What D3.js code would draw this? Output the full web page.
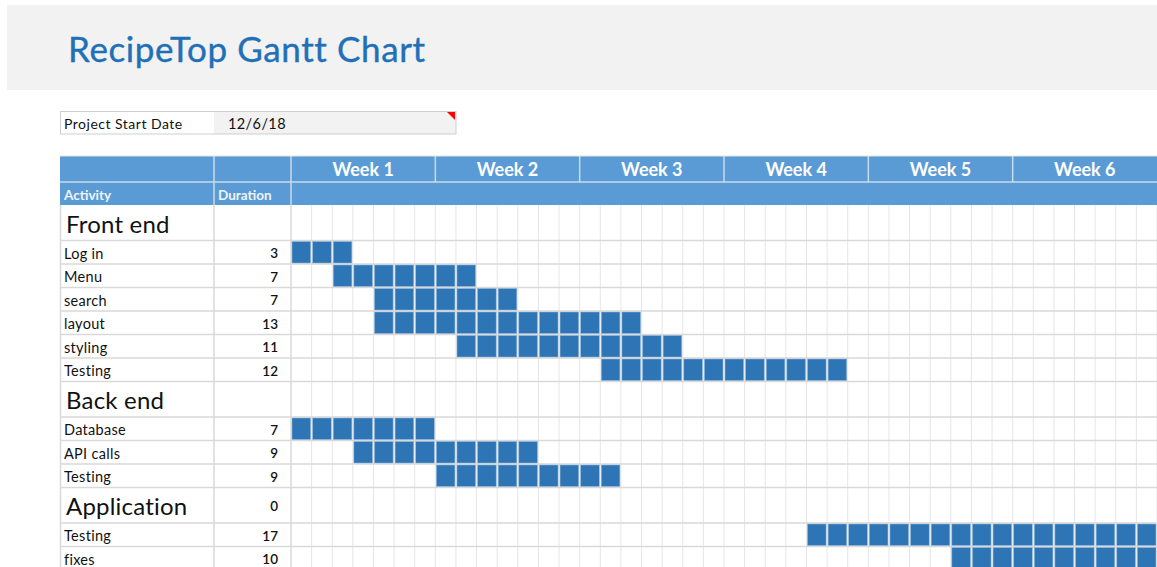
<!DOCTYPE html>
<html>
<head>
<meta charset="utf-8">
<script src="https://cdn.jsdelivr.net/npm/d3@7"></script>
<style>
  html, body { margin: 0; padding: 0; background: #fff; }
  svg { display: block; font-family: Lato, "Open Sans", sans-serif; }
</style>
</head>
<body>
<svg id="chart" width="1157" height="567"></svg>
<script>
// Project schedule
const projectStart = "12/6/18";
const weekLabels = ["Week 1", "Week 2", "Week 3", "Week 4", "Week 5", "Week 6"];
const activities = ["Front end", "Log in", "Menu", "search", "layout", "styling", "Testing",
                    "Back end", "Database", "API calls", "Testing",
                    "Application", "Testing", "fixes"];
const isSection  = [true, false, false, false, false, false, false,
                    true, false, false, false,
                    true, false, false];
const durations  = [null, 3, 7, 7, 13, 11, 12, null, 7, 9, 9, 0, 17, 10];
const startDays  = [null, 0, 2, 4, 4, 8, 15, null, 0, 3, 7, null, 25, 32];
const totalDays = 42;

const svg = d3.select("#chart");
const W = 1157;

const colActX = 60, colDurX = 214, colDaysX = 291;
const headTop = 156, head2Top = 182, bodyTop = 205;
const sectionH = 35.5, taskH = 23.5;

const blue = "#5b9bd5", barBlue = "#2e75b6", gridCol = "#e6e6e6", rowLine = "#d9d9d9";

// Title band
svg.append("rect").attr("x", 7).attr("y", 5).attr("width", W - 7).attr("height", 85).attr("fill", "#f2f2f2");
svg.append("text").attr("x", 68).attr("y", 62)
  .attr("font-size", 35).attr("letter-spacing", 0.6).attr("fill", "#1f70b8")
  .attr("stroke", "#1f70b8").attr("stroke-width", 0.4)
  .text("RecipeTop Gantt Chart");

// Project start date field
svg.append("rect").attr("x", 214).attr("y", 111).attr("width", 242).attr("height", 23).attr("fill", "#f2f2f2");
svg.append("rect").attr("x", 60.5).attr("y", 111.5).attr("width", 395.5).attr("height", 22.5)
  .attr("fill", "none").attr("stroke", "#cfcfcf");
svg.append("path").attr("d", "M447,112 L455,112 L455,120 Z").attr("fill", "#ff0000");
svg.append("text").attr("x", 64).attr("y", 128.5).attr("font-size", 14).attr("letter-spacing", 0.5).attr("fill", "#111").text("Project Start Date");
svg.append("text").attr("x", 228).attr("y", 129).attr("font-size", 14.5).attr("letter-spacing", 0.4).attr("fill", "#111").text(projectStart);

// Scales
const x = d3.scaleLinear().domain([0, totalDays]).range([colDaysX, colDaysX + totalDays * (866 / 42)]);
const weekX = d3.scaleBand().domain(weekLabels).range([x(0), x(totalDays)]).padding(0);

// Row positions
const rowTops = [];
let yy = bodyTop;
activities.forEach((a, i) => { rowTops.push(yy); yy += isSection[i] ? sectionH : taskH; });
const bodyBottom = yy;
const rowH = i => isSection[i] ? sectionH : taskH;

// Header
svg.append("rect").attr("x", colActX).attr("y", headTop).attr("width", W - colActX).attr("height", bodyTop - headTop).attr("fill", blue);
svg.append("line").attr("x1", colActX).attr("x2", W).attr("y1", head2Top).attr("y2", head2Top).attr("stroke", "#c9daea").attr("stroke-width", 1.5);
[colDurX, colDaysX].forEach(cx => {
  svg.append("line").attr("x1", cx).attr("x2", cx).attr("y1", headTop).attr("y2", bodyTop).attr("stroke", "#c9daea").attr("stroke-width", 1.5);
});
svg.selectAll(".wkdiv").data(weekLabels.slice(1)).join("line")
  .attr("x1", d => weekX(d)).attr("x2", d => weekX(d))
  .attr("y1", headTop).attr("y2", head2Top).attr("stroke", "#c9daea").attr("stroke-width", 1.5);
svg.selectAll(".wk").data(weekLabels).join("text")
  .attr("x", d => weekX(d) + weekX.bandwidth() / 2).attr("y", 175.5)
  .attr("text-anchor", "middle").attr("font-size", 18).attr("font-weight", 700).attr("fill", "#fff")
  .text(d => d);
svg.append("text").attr("x", 64).attr("y", 199.5).attr("font-size", 13.5).attr("font-weight", 700).attr("fill", "#eef4fb").text("Activity");
svg.append("text").attr("x", 218).attr("y", 199.5).attr("font-size", 13.5).attr("font-weight", 700).attr("fill", "#eef4fb").text("Duration");
svg.append("line").attr("x1", colActX).attr("x2", W).attr("y1", headTop).attr("y2", headTop).attr("stroke", "#e2e2e2");

// Day grid
svg.selectAll(".vday").data(d3.range(1, totalDays + 1)).join("line")
  .attr("x1", d => x(d)).attr("x2", d => x(d))
  .attr("y1", bodyTop).attr("y2", bodyBottom)
  .attr("stroke", gridCol).attr("stroke-width", 1);

// Row lines
svg.selectAll(".hrow").data(rowTops.slice(1)).join("line")
  .attr("x1", colActX).attr("x2", W).attr("y1", d => d).attr("y2", d => d)
  .attr("stroke", rowLine).attr("stroke-width", 1.5);

// Column dividers
[colActX + 0.5, colDurX, colDaysX].forEach(cx => {
  svg.append("line").attr("x1", cx).attr("x2", cx).attr("y1", bodyTop).attr("y2", bodyBottom)
    .attr("stroke", rowLine).attr("stroke-width", 1.5);
});

// Bars: one filled cell per scheduled day
activities.forEach((a, i) => {
  if (isSection[i] || startDays[i] === null) return;
  const days = d3.range(startDays[i], Math.min(startDays[i] + durations[i], totalDays));
  svg.selectAll(null).data(days).join("rect")
    .attr("x", d => x(d) + 1).attr("y", rowTops[i] + 1)
    .attr("width", d => x(d + 1) - x(d) - 2).attr("height", rowH(i) - 2)
    .attr("fill", barBlue).attr("stroke", "#8fb3d6").attr("stroke-width", 0.6);
});

// Labels
activities.forEach((a, i) => {
  const top = rowTops[i], h = rowH(i);
  if (isSection[i]) {
    svg.append("text").attr("x", 66).attr("y", top + h / 2 + 10)
      .attr("font-size", 24).attr("letter-spacing", 0.2).attr("fill", "#111").text(a);
  } else {
    svg.append("text").attr("x", 64).attr("y", top + h / 2 + 6.5)
      .attr("font-size", 14.5).attr("letter-spacing", 0.3).attr("fill", "#111").text(a);
  }
  if (durations[i] !== null) {
    svg.append("text").attr("x", 278).attr("y", top + h / 2 + 6)
      .attr("text-anchor", "end").attr("font-size", 13.5).attr("font-weight", 600).attr("fill", "#111")
      .text(durations[i]);
  }
});
</script>
</body>
</html>
